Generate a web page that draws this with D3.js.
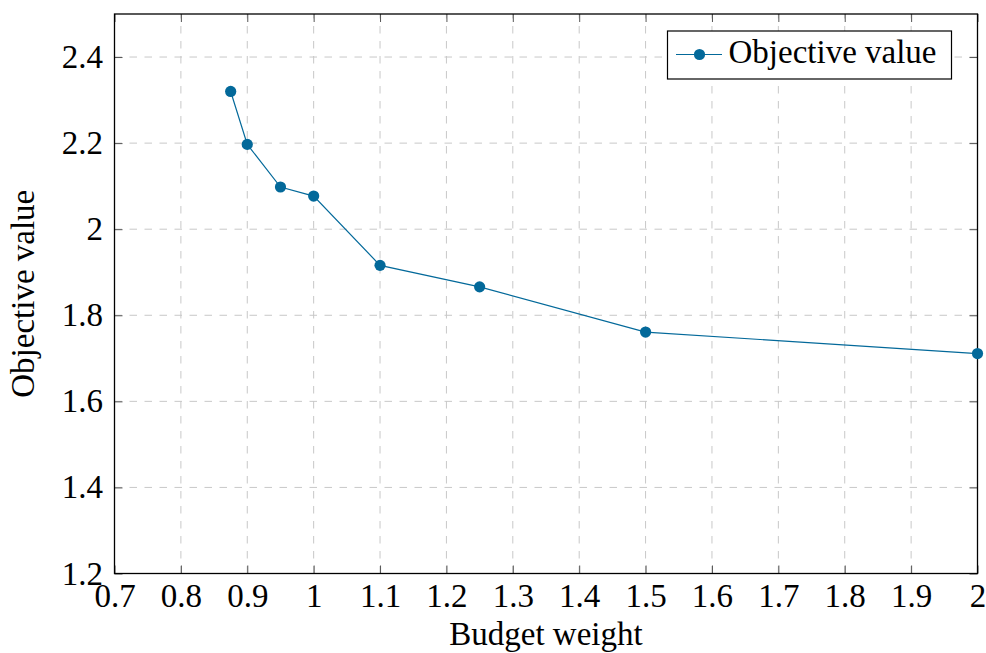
<!DOCTYPE html>
<html>
<head>
<meta charset="utf-8">
<script src="https://cdn.jsdelivr.net/npm/d3@7"></script>
<style>
  html, body { margin: 0; padding: 0; background: #fff; }
  svg { display: block; }
  text { font-family: "Liberation Serif", "Times New Roman", serif; fill: #000; }
</style>
</head>
<body>
<script>
// ---- data ----
const budgetWeight = [0.875, 0.9, 0.95, 1.0, 1.1, 1.25, 1.5, 2.0];
const objectiveValue = [2.32, 2.197, 2.098, 2.077, 1.916, 1.866, 1.761, 1.711];
const xTicks = [0.7, 0.8, 0.9, 1.0, 1.1, 1.2, 1.3, 1.4, 1.5, 1.6, 1.7, 1.8, 1.9, 2.0];
const yTicks = [1.2, 1.4, 1.6, 1.8, 2.0, 2.2, 2.4];
const seriesName = "Objective value";
const xLabel = "Budget weight";
const yLabel = "Objective value";

const W = 986, H = 653;
const m = { left: 114.5, right: 986 - 977.5, top: 14, bottom: 653 - 573.5 };
const color = "#03699a";
const fs = 33;

const svg = d3.select("body").append("svg").attr("width", W).attr("height", H);

const x = d3.scaleLinear().domain([0.7, 2.0]).range([m.left, W - m.right]);
const y = d3.scaleLinear().domain([1.2, 2.5]).range([H - m.bottom, m.top]);

const fmt = d => d3.format("~g")(d);

// grid
const grid = svg.append("g");
grid.selectAll("line.vx").data(xTicks.slice(1, -1)).join("line")
  .attr("x1", d => x(d)).attr("x2", d => x(d))
  .attr("y1", y.range()[0]).attr("y2", y.range()[1])
  .attr("stroke", "#c8c8c8").attr("stroke-width", 1).attr("stroke-dasharray", "7.5,7.5");
grid.selectAll("line.hy").data(yTicks.slice(1)).join("line")
  .attr("y1", d => y(d)).attr("y2", d => y(d))
  .attr("x1", x.range()[0]).attr("x2", x.range()[1])
  .attr("stroke", "#c8c8c8").attr("stroke-width", 1).attr("stroke-dasharray", "7.5,7.5");

// axes (ticks inside, on all sides)
const tl = 8;
const xb = svg.append("g").attr("transform", `translate(0,${y.range()[0]})`)
  .call(d3.axisBottom(x).tickValues(xTicks).tickFormat(fmt).tickSizeInner(-tl).tickSizeOuter(0).tickPadding(33.5));
const xt = svg.append("g").attr("transform", `translate(0,${y.range()[1]})`)
  .call(d3.axisTop(x).tickValues(xTicks).tickFormat("").tickSizeInner(-tl).tickSizeOuter(0));
const yl = svg.append("g").attr("transform", `translate(${x.range()[0]},0)`)
  .call(d3.axisLeft(y).tickValues(yTicks).tickFormat(fmt).tickSizeInner(-tl).tickSizeOuter(0).tickPadding(11.5));
const yr = svg.append("g").attr("transform", `translate(${x.range()[1]},0)`)
  .call(d3.axisRight(y).tickValues(yTicks).tickFormat("").tickSizeInner(-tl).tickSizeOuter(0));
[xb, xt, yl, yr].forEach(g => {
  g.select(".domain").remove();
  g.selectAll(".tick line").attr("stroke", "#555").attr("stroke-width", 1);
  g.selectAll("text").attr("font-size", fs).attr("font-family", "Liberation Serif").attr("fill", "#000");
});
xb.selectAll("text").attr("dy", 0);

// frame
svg.append("rect")
  .attr("x", x.range()[0]).attr("y", y.range()[1])
  .attr("width", x.range()[1] - x.range()[0]).attr("height", y.range()[0] - y.range()[1])
  .attr("fill", "none").attr("stroke", "#000").attr("stroke-width", 1.3);

// series
const pts = budgetWeight.map((b, i) => [b, objectiveValue[i]]);
svg.append("path").datum(pts)
  .attr("fill", "none").attr("stroke", color).attr("stroke-width", 1.2)
  .attr("d", d3.line().x(d => x(d[0])).y(d => y(d[1])));
svg.append("g").selectAll("circle").data(pts).join("circle")
  .attr("cx", d => x(d[0])).attr("cy", d => y(d[1])).attr("r", 5.6).attr("fill", color);

// axis labels
svg.append("text").attr("x", (x.range()[0] + x.range()[1]) / 2).attr("y", 645)
  .attr("text-anchor", "middle").attr("font-size", fs).text(xLabel);
svg.append("text").attr("transform", `translate(34,${(y.range()[0] + y.range()[1]) / 2}) rotate(-90)`)
  .attr("text-anchor", "middle").attr("font-size", fs).text(yLabel);

// legend
const lg = svg.append("g");
lg.append("rect").attr("x", 667.5).attr("y", 31).attr("width", 284).attr("height", 48)
  .attr("fill", "#fff").attr("stroke", "#000").attr("stroke-width", 1.2);
lg.append("line").attr("x1", 676).attr("x2", 722).attr("y1", 54.5).attr("y2", 54.5)
  .attr("stroke", color).attr("stroke-width", 1.2);
lg.append("circle").attr("cx", 699.5).attr("cy", 54.5).attr("r", 5.6).attr("fill", color);
lg.append("text").attr("x", 728.5).attr("y", 63).attr("font-size", fs).text(seriesName);
</script>
</body>
</html>
